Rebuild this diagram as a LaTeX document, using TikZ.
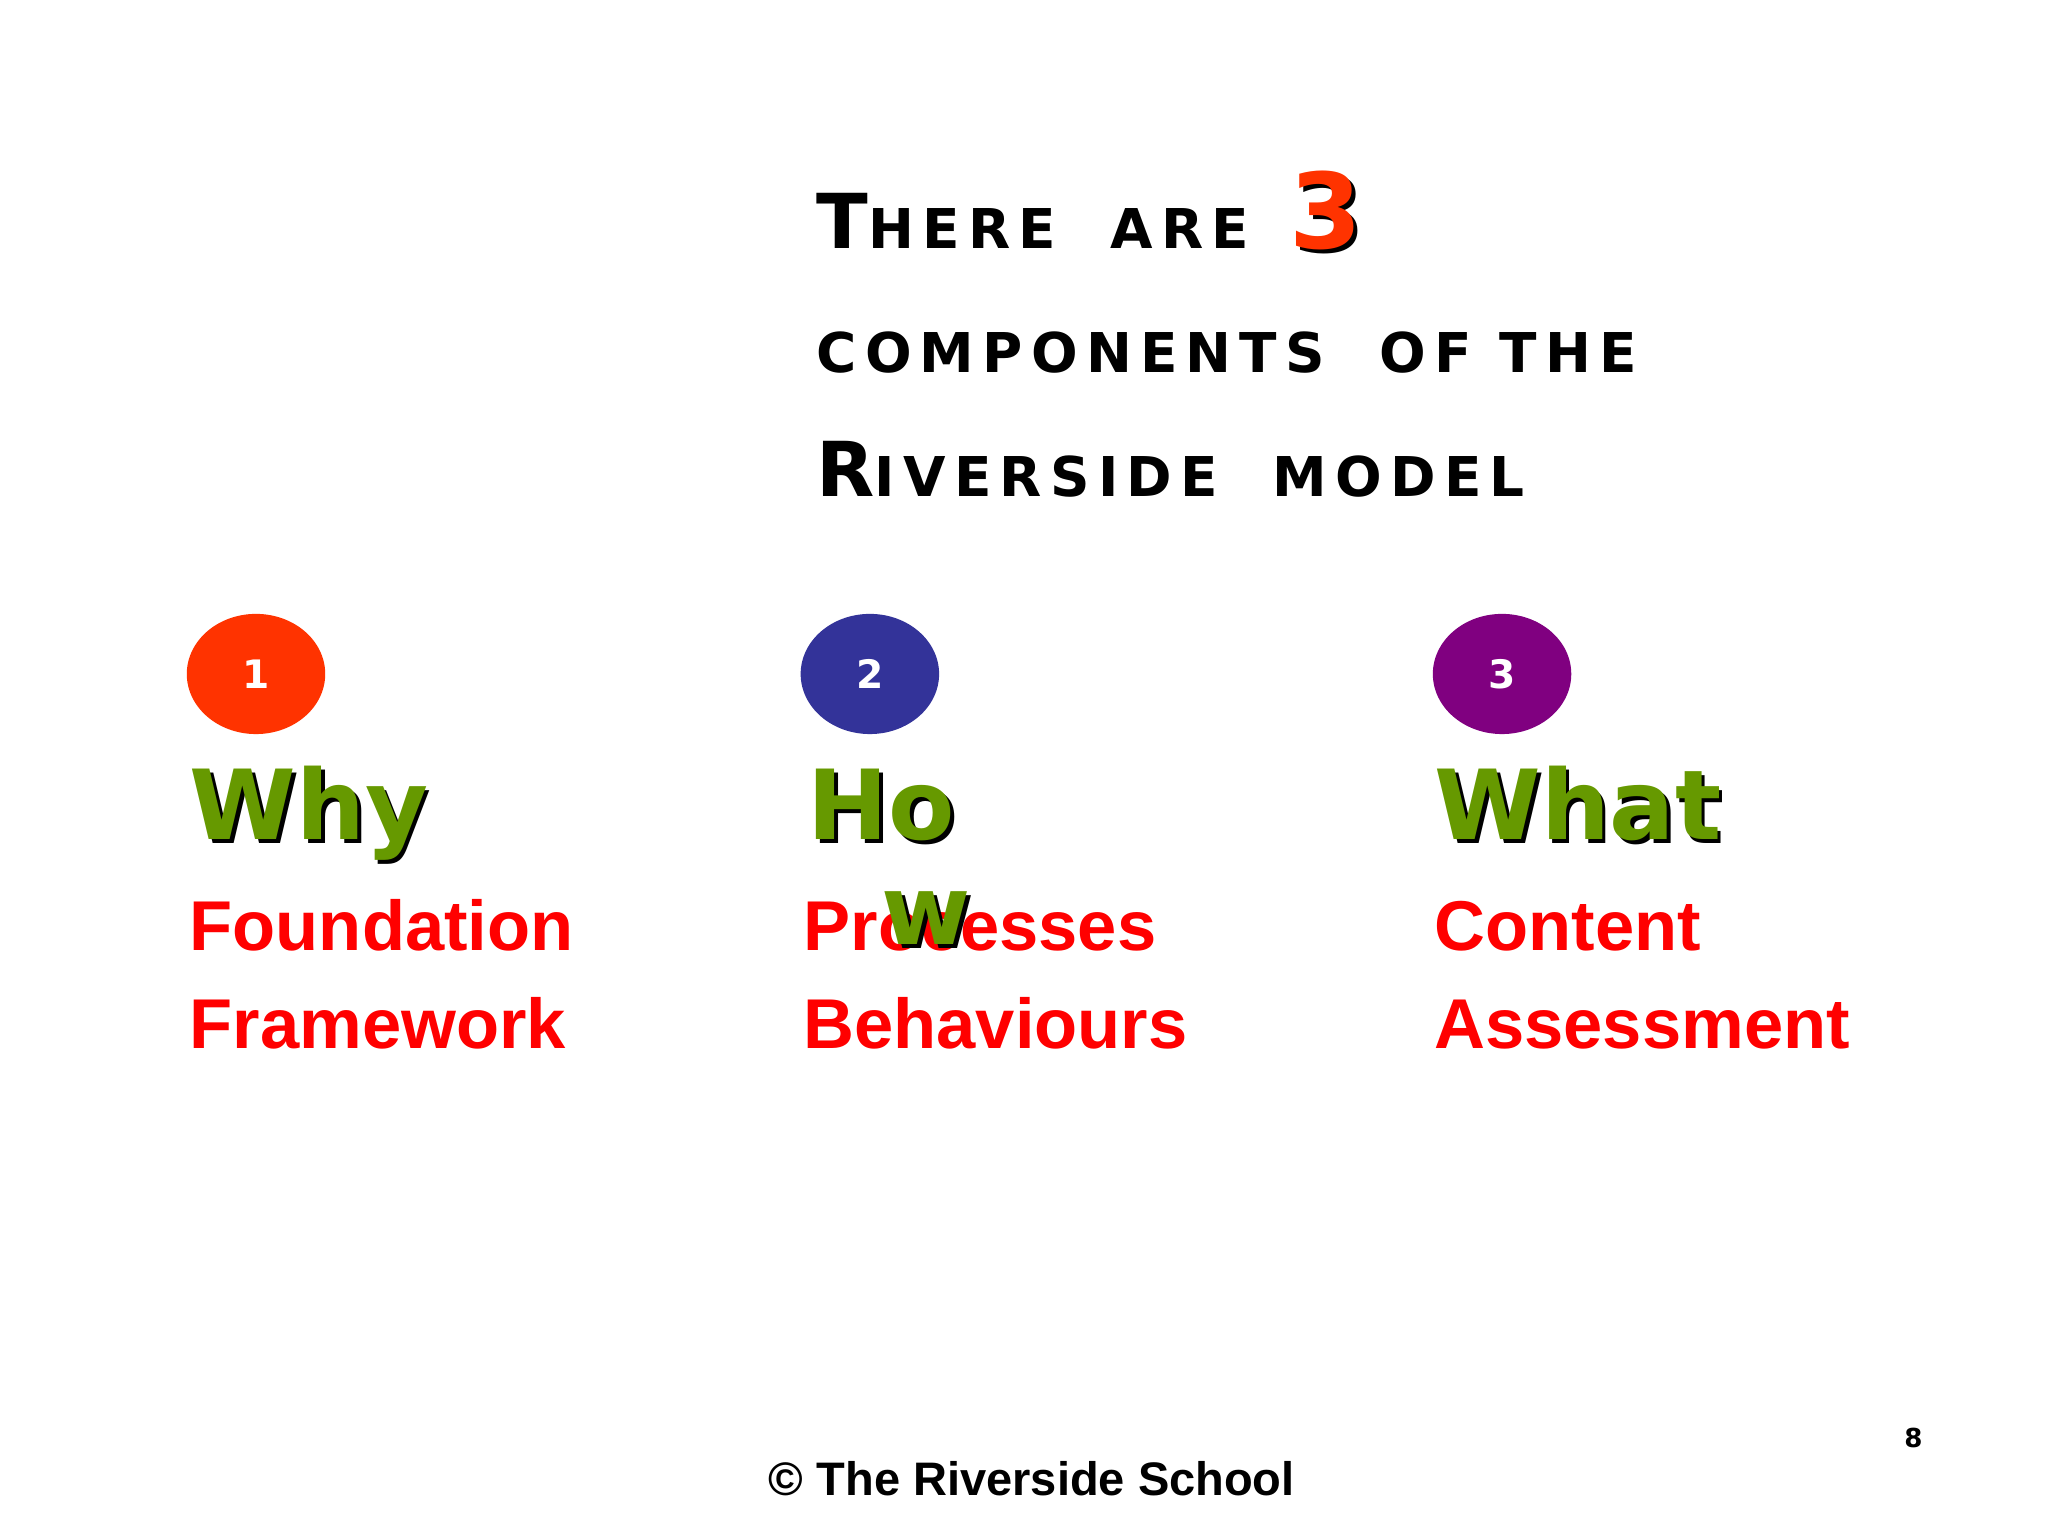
\documentclass[tikz,border=0pt]{standalone}
\usepackage{fontspec}
\setmainfont{DejaVu Sans}
\newfontfamily\lib{Liberation Sans}
\definecolor{grn}{HTML}{669900}
\definecolor{c1}{HTML}{FF3300}
\definecolor{c2}{HTML}{333399}
\definecolor{c3}{HTML}{800080}
\newcommand{\bgl}[1]{{\fontsize{58}{60}\selectfont #1}}
\newcommand{\sml}[1]{{\fontsize{42}{44}\selectfont #1}}
\tikzset{t/.style={anchor=base west,inner sep=0pt,font=\bfseries},
 num/.style={ellipse,minimum width=106pt,minimum height=92pt,inner sep=0pt,text=white,font=\bfseries\fontsize{30}{32}\selectfont},
 red/.style={t,text=red,font=\lib\bfseries\fontsize{54}{60}\selectfont},
 gw/.style={t,font=\bfseries\fontsize{74}{80}\selectfont},
 sh/.style={xshift=3pt,yshift=-3pt,text=black}}
\usetikzlibrary{shapes.geometric}
\begin{document}
\begin{tikzpicture}[x=1pt,y=-1pt]
\useasboundingbox (0,0) rectangle (1568,1176);
\node[t] (l1) at (625,190) {\addfontfeature{LetterSpace=15}\bgl{T}\sml{HERE\ \ ARE}};
\node[t,sh,font=\bfseries\fontsize{80}{80}\selectfont] (s3) at (987,190) {3};
\node[t,text=c1,font=\bfseries\fontsize{80}{80}\selectfont] (r3) at (987,190) {3};
\node[t] (l2) at (625,285) {\addfontfeature{LetterSpace=15}\sml{COMPONENTS\ \ OF THE}};
\node[t] (l3) at (625,380) {\addfontfeature{LetterSpace=15}\bgl{R}\sml{IVERSIDE\ \ MODEL}};
\node[num,fill=c1] (n1) at (196,516) {1};
\node[num,fill=c2] (n2) at (666,516) {2};
\node[num,fill=c3] (n3) at (1150,516) {3};
\node[gw,sh] (as) at (145,643) {Why};
\node[gw,text=grn] (a) at (145,643) {Why};
\node[gw,sh] (bs) at (618,643) {Ho};
\node[gw,text=grn] (b) at (618,643) {Ho};
\node[gw,sh] (ds) at (1098,643) {What};
\node[gw,text=grn] (d) at (1098,643) {What};
\node[red] (f1) at (145,728) {Foundation};
\node[red] (f2) at (145,803) {Framework};
\node[red] (p1) at (615,728) {Processes};
\node[gw,sh] (cs2) at (675,723) {w};
\node[gw,text=grn] (c2) at (675,723) {w};
\node[red] (p2) at (615,803) {Behaviours};
\node[red] (w1) at (1098,728) {Content};
\node[red] (w2) at (1098,803) {Assessment};
\node[anchor=base,inner sep=0pt,font=\lib\bfseries\fontsize{36}{38}\selectfont] (ft) at (790,1145) {\textcopyright{} The Riverside School};
\node[anchor=base,inner sep=0pt,font=\bfseries\fontsize{20}{20}\selectfont] (pg) at (1465,1108) {8};
\end{tikzpicture}
\end{document}
